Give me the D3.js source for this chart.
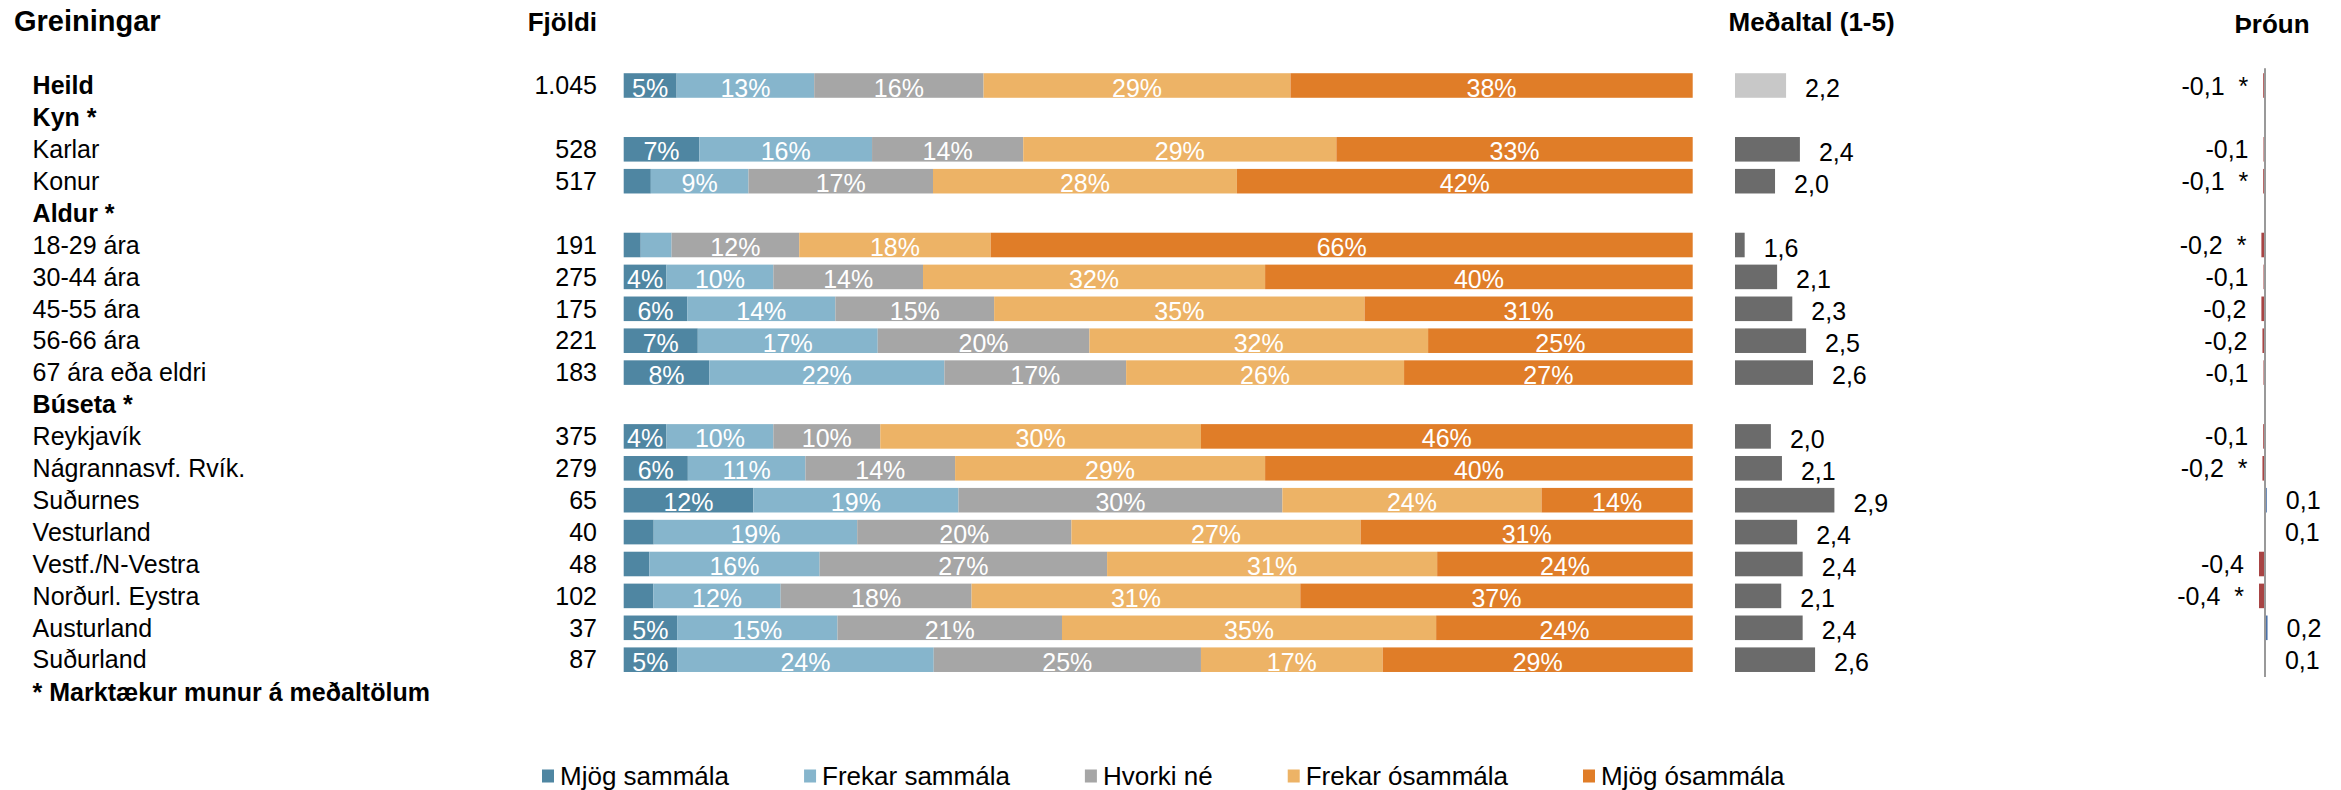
<!DOCTYPE html>
<html>
<head>
<meta charset="utf-8">
<script src="https://cdn.jsdelivr.net/npm/d3@7"></script>
<style>
  body { margin: 0; background: #fff; }
  text { font-family: "Liberation Sans", Arial, sans-serif; }
</style>
</head>
<body>
<script>
// row labels (group headers have no data)
var rowLabels = ["Heild", "Kyn *", "Karlar", "Konur", "Aldur *", "18-29 ára", "30-44 ára", "45-55 ára",
  "56-66 ára", "67 ára eða eldri", "Búseta *", "Reykjavík", "Nágrannasvf. Rvík.", "Suðurnes",
  "Vesturland", "Vestf./N-Vestra", "Norðurl. Eystra", "Austurland", "Suðurland"];
var boldRows = ["Heild", "Kyn *", "Aldur *", "Búseta *"];
var footnote = "* Marktækur munur á meðaltölum";

var fjoldi = [1045, null, 528, 517, null, 191, 275, 175, 221, 183, null, 375, 279, 65, 40, 48, 102, 37, 87];

// answer shares (%)
var seriesNames = ["Mjög sammála", "Frekar sammála", "Hvorki né", "Frekar ósammála", "Mjög ósammála"];
var seriesColors = ["#4f86a2", "#86b5cc", "#a6a6a6", "#edb366", "#e07d28"];
var mjogSammala    = [5, null, 7, 2.5, null, 1.6, 4, 6, 7, 8, null, 4, 6, 12, 2.8, 2.4, 2.8, 5, 5];
var frekarSammala  = [13, null, 16, 9, null, 2.9, 10, 14, 17, 22, null, 10, 11, 19, 19, 16, 12, 15, 24];
var hvorkiNe       = [16, null, 14, 17, null, 12, 14, 15, 20, 17, null, 10, 14, 30, 20, 27, 18, 21, 25];
var frekarOsammala = [29, null, 29, 28, null, 18, 32, 35, 32, 26, null, 30, 29, 24, 27, 31, 31, 35, 17];
var mjogOsammala   = [38, null, 33, 42, null, 66, 40, 31, 25, 27, null, 46, 40, 14, 31, 24, 37, 24, 29];

// mean (1-5) and change since last
var medaltal = [2.2, null, 2.4, 2.04, null, 1.6, 2.07, 2.29, 2.49, 2.59, null, 1.98, 2.14, 2.9, 2.36, 2.44, 2.13, 2.44, 2.62];
var throun   = [-0.12, null, -0.1, -0.12, null, -0.24, -0.1, -0.24, -0.17, -0.1, null, -0.12, -0.17, 0.12, 0.06, -0.4, -0.4, 0.17, 0.06];
var throunSig = [true, null, false, true, null, true, false, false, false, false, null, false, true, false, false, false, true, false, false];

var W = 2341, H = 790;
var svg = d3.select("body").append("svg").attr("width", W).attr("height", H);

var is = d3.formatLocale({ decimal: ",", thousands: ".", grouping: [3], currency: ["", ""] });
var fmtN = is.format(",d"), fmt1 = is.format(".1f");

var allSeries = [mjogSammala, frekarSammala, hvorkiNe, frekarOsammala, mjogOsammala];

// row bands (19 rows + footnote)
var y = d3.scaleBand()
  .domain(d3.range(rowLabels.length + 1))
  .range([69.55, 69.55 + 20 * 31.9])
  .paddingInner(0.23)
  .paddingOuter(0.115);
function cy(i) { return y(i) + y.bandwidth() / 2; }

var x = d3.scaleLinear().domain([0, 1]).range([623.7, 1692.7]);
var xm = d3.scaleLinear().domain([1.46, 2.9]).range([1735, 1834.4]);
var xt = d3.scaleLinear().domain([-0.4, 0]).range([2259, 2265]);

// headers
svg.append("text").attr("x", 14).attr("y", 31).attr("font-size", 29).attr("font-weight", "bold").text("Greiningar");
svg.append("text").attr("x", 597).attr("y", 31).attr("font-size", 26).attr("font-weight", "bold").attr("text-anchor", "end").text("Fjöldi");
svg.append("text").attr("x", 1728.5).attr("y", 31).attr("font-size", 26).attr("font-weight", "bold").text("Meðaltal (1-5)");
svg.append("text").attr("x", 2234.5).attr("y", 33).attr("font-size", 26).attr("font-weight", "bold").text("Þróun");

// row labels
svg.selectAll(".rowlab").data(rowLabels).enter().append("text")
  .attr("class", "rowlab")
  .attr("x", 32.6)
  .attr("y", function (d, i) { return cy(i) + 8.7; })
  .attr("font-size", 25)
  .attr("font-weight", function (d) { return boldRows.indexOf(d) >= 0 ? "bold" : "normal"; })
  .text(function (d) { return d; });

svg.append("text").attr("x", 32.6).attr("y", cy(rowLabels.length) + 9.5)
  .attr("font-size", 25).attr("font-weight", "bold").text(footnote);

// counts
svg.selectAll(".cnt").data(fjoldi).enter().filter(function (d) { return d != null; }).append("text")
  .attr("x", 597)
  .attr("y", function (d) { return cy(fjoldi.indexOf(d)) + 8.7; })
  .attr("font-size", 25).attr("text-anchor", "end")
  .text(function (d) { return fmtN(d); });

// stacked bars
var rows = [];
rowLabels.forEach(function (lab, i) {
  if (mjogSammala[i] == null) return;
  var vals = allSeries.map(function (s) { return s[i]; });
  var total = d3.sum(vals), acc = 0;
  vals.forEach(function (v, k) {
    rows.push({ row: i, k: k, v: v, x0: acc / total, x1: (acc + v) / total });
    acc += v;
  });
});

var seg = svg.append("g").selectAll("g").data(rows).enter().append("g");
seg.append("rect")
  .attr("x", function (d) { return x(d.x0); })
  .attr("y", function (d) { return y(d.row); })
  .attr("width", function (d) { return x(d.x1) - x(d.x0); })
  .attr("height", y.bandwidth())
  .attr("fill", function (d) { return seriesColors[d.k]; });
seg.filter(function (d) { return d.v >= 3; }).append("text")
  .attr("x", function (d) { return (x(d.x0) + x(d.x1)) / 2; })
  .attr("y", function (d) { return cy(d.row) + 11; })
  .attr("text-anchor", "middle").attr("font-size", 25).attr("fill", "#fff")
  .text(function (d) { return Math.round(d.v) + "%"; });

// mean bars
var meanRows = medaltal.map(function (v, i) { return { i: i, v: v }; }).filter(function (d) { return d.v != null; });
svg.selectAll(".mean").data(meanRows).enter().append("rect")
  .attr("x", xm(1.46))
  .attr("y", function (d) { return y(d.i); })
  .attr("width", function (d) { return xm(d.v) - xm(1.46); })
  .attr("height", y.bandwidth())
  .attr("fill", function (d) { return d.i === 0 ? "#c8c8c8" : "#6b6b6b"; });
svg.selectAll(".meanlab").data(meanRows).enter().append("text")
  .attr("x", function (d) { return xm(d.v) + 19; })
  .attr("y", function (d) { return cy(d.i) + 11.5; })
  .attr("font-size", 25)
  .text(function (d) { return fmt1(d.v); });

// trend bars
var trRows = throun.map(function (v, i) { return { i: i, v: v, sig: throunSig[i] }; }).filter(function (d) { return d.v != null; });
svg.selectAll(".tr").data(trRows).enter().append("rect")
  .attr("x", function (d) { return Math.min(xt(d.v), xt(0)); })
  .attr("y", function (d) { return y(d.i); })
  .attr("width", function (d) { return Math.abs(xt(d.v) - xt(0)); })
  .attr("height", y.bandwidth())
  .attr("fill", function (d) { return d.v < 0 ? "#a84444" : "#4a70a8"; });
svg.selectAll(".trlab").data(trRows).enter().append("text")
  .attr("x", function (d) { return d.v < 0 ? xt(d.v) - 15 : xt(d.v) + 19; })
  .attr("y", function (d) { return cy(d.i) + 9; })
  .attr("font-size", 25)
  .attr("text-anchor", function (d) { return d.v < 0 ? "end" : "start"; })
  .style("white-space", "pre")
  .text(function (d) {
    var s = d.v < 0 ? "-" + fmt1(-d.v) : fmt1(d.v);
    return d.sig ? s + "  *" : s;
  });

svg.append("line")
  .attr("x1", xt(0)).attr("x2", xt(0))
  .attr("y1", 68.3).attr("y2", 677)
  .attr("stroke", "#999").attr("stroke-width", 2);

// legend
var lx = 542;
var legend = svg.append("g");
seriesNames.forEach(function (name, k) {
  legend.append("rect").attr("x", lx).attr("y", 769.5).attr("width", 12).attr("height", 13).attr("fill", seriesColors[k]);
  var t = legend.append("text").attr("x", lx + 18).attr("y", 784.5).attr("font-size", 26).text(name);
  lx = lx + 18 + t.node().getComputedTextLength() + 75;
});
</script>
</body>
</html>
